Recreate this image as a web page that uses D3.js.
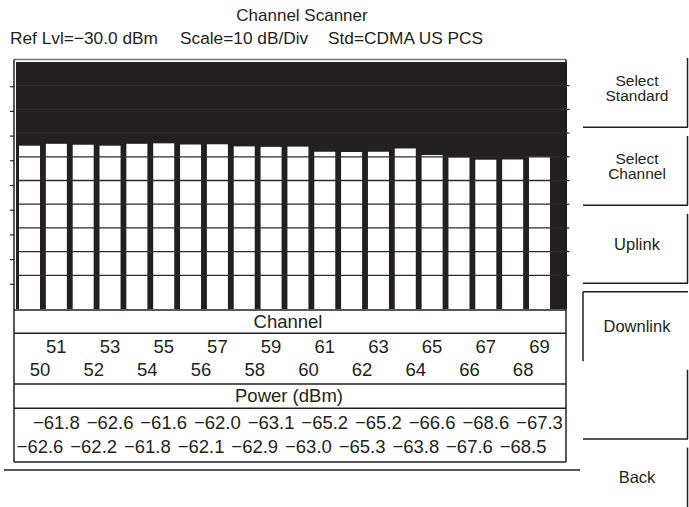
<!DOCTYPE html>
<html>
<head>
<meta charset="utf-8">
<script src="https://d3js.org/d3.v7.min.js"></script>
<style>
  body { margin: 0; background: #fff; }
  svg text { font-family: "Liberation Sans", Arial, sans-serif; fill: #231f20; }
</style>
</head>
<body>
<svg width="689" height="507"></svg>
<script>
// channel scan data
var channels = [50, 51, 52, 53, 54, 55, 56, 57, 58, 59, 60, 61, 62, 63, 64, 65, 66, 67, 68, 69]
var power = [-62.6, -61.8, -62.2, -62.6, -61.8, -61.6, -62.1, -62.0, -62.9, -63.1,
             -63.0, -65.2, -65.3, -65.2, -63.8, -66.6, -67.6, -68.6, -68.5, -67.3]
var headerItems = ["Ref Lvl=\u221230.0 dBm", "Scale=10 dB/Div", "Std=CDMA US PCS"]
var softkeys = [["Select", "Standard"], ["Select", "Channel"], ["Uplink"], ["Downlink"], [], ["Back"]]
var pressedKey = 3
var divisions = d3.range(1, 10)

const ink = "#231f20"
const plotL = 16, plotR = 566, plotT = 62, plotB = 309
const frameL = 14, frameT = 59.5, tableB = 462

var svg = d3.select("svg")

var x = d3.scaleBand().domain(channels).range([19, 550]).paddingInner(0.217).paddingOuter(0)
var y = d3.scaleLinear().domain([-130, -30]).range([303.4, 69.4])
var tickY = d3.scaleLinear().domain([0, 10]).range([plotT, plotB])
var gridY = d3.scaleLinear().domain([0, 10]).range([plotT, plotT + 237])
var fmt = d3.format(".1f")

// header
svg.append("text").attr("x", 302).attr("y", 20.5).attr("text-anchor", "middle")
  .style("font-size", "17px").text("Channel Scanner")
svg.selectAll(".hdr").data(headerItems).enter().append("text")
  .attr("class", "hdr")
  .attr("x", function(d, i){ return [10, 180, 328][i] })
  .attr("y", 44.3)
  .style("font-size", "17.3px")
  .text(function(d){ return d })

// plot area
svg.append("rect").attr("x", plotL).attr("y", plotT)
  .attr("width", plotR - plotL + 1).attr("height", plotB - plotT).attr("fill", ink)

svg.append("g").selectAll("rect").data(channels).enter().append("rect")
  .attr("x", function(d){ return x(d) })
  .attr("width", x.bandwidth())
  .attr("y", function(d, i){ return y(power[i]) })
  .attr("height", function(d, i){ return plotB - y(power[i]) })
  .attr("fill", "#fff")

// graticule (only shows on the white bars)
svg.append("g").selectAll("line").data(divisions).enter().append("line")
  .attr("x1", plotL).attr("x2", plotR)
  .attr("y1", function(d){ return gridY(d) }).attr("y2", function(d){ return gridY(d) })
  .attr("stroke", "#2b2b2b").attr("stroke-width", 1.3)

// left and right tick marks
svg.append("g").selectAll("line").data(divisions).enter().append("line")
  .attr("x1", 10).attr("x2", frameL)
  .attr("y1", function(d){ return tickY(d) }).attr("y2", function(d){ return tickY(d) })
  .attr("stroke", ink).attr("stroke-width", 1.2)
svg.append("g").selectAll("line").data(divisions).enter().append("line")
  .attr("x1", plotR).attr("x2", 569.5)
  .attr("y1", function(d){ return gridY(d) }).attr("y2", function(d){ return gridY(d) })
  .attr("stroke", ink).attr("stroke-width", 1.2)

// frame and table rules
var frame = svg.append("g").attr("stroke", ink).attr("stroke-width", 1.5).attr("fill", "none")
frame.append("line").attr("x1", frameL).attr("x2", plotR).attr("y1", frameT).attr("y2", frameT)
  .attr("stroke", "#777")
frame.append("line").attr("x1", frameL).attr("x2", frameL).attr("y1", frameT).attr("y2", tableB)
frame.append("line").attr("x1", plotR).attr("x2", plotR).attr("y1", frameT).attr("y2", tableB)
frame.selectAll(".rule").data([310, 333.3, 384, 408.3, tableB]).enter().append("line")
  .attr("x1", frameL).attr("x2", plotR)
  .attr("y1", function(d){ return d }).attr("y2", function(d){ return d })
frame.append("line").attr("x1", 4).attr("x2", 580).attr("y1", 470).attr("y2", 470)

// table text
var tbl = svg.append("g").style("font-size", "18.5px").attr("text-anchor", "middle")
tbl.append("text").attr("x", 288).attr("y", 328.3).text("Channel")
tbl.append("text").attr("x", 289).attr("y", 401.8).text("Power (dBm)")

var evenShift = 10.5
function labelX(d){ return x(d) + x.bandwidth() / 2 + (d % 2 === 0 ? evenShift : 0) }
tbl.selectAll(".ch").data(channels).enter().append("text")
  .attr("class", "ch")
  .attr("x", labelX)
  .attr("y", function(d){ return d % 2 === 0 ? 376 : 352.7 })
  .text(function(d){ return d })
tbl.selectAll(".pw").data(channels).enter().append("text")
  .attr("class", "pw")
  .attr("x", labelX)
  .attr("y", function(d){ return d % 2 === 0 ? 452.6 : 429.3 })
  .text(function(d, i){ return fmt(power[i]) })

// soft keys on the right
var keyY = d3.scaleBand().domain(d3.range(softkeys.length)).range([58, 517]).paddingInner(0.11)
var keyL = 583, keyR = 687.5
var keys = svg.append("g").selectAll("g").data(softkeys).enter().append("g")
keys.each(function(lines, i){
  var g = d3.select(this)
  var t = keyY(i), b = t + keyY.bandwidth()
  if (i === pressedKey) {
    g.append("line").attr("x1", keyL).attr("x2", keyR + 0.5).attr("y1", t).attr("y2", t)
    g.append("line").attr("x1", keyL).attr("x2", keyL).attr("y1", t).attr("y2", b)
  } else {
    g.append("line").attr("x1", keyR).attr("x2", keyR).attr("y1", t).attr("y2", b)
    g.append("line").attr("x1", keyL).attr("x2", keyR + 0.5).attr("y1", b).attr("y2", b)
  }
  g.selectAll("line").attr("stroke", ink).attr("stroke-width", 1.5)
  var cy = (t + b) / 2 + (i === pressedKey ? 0 : -5)
  var lh = 15.5
  var fs = lines.length > 1 ? "15.5px" : "16.5px"
  g.append("text")
    .attr("x", 637).attr("text-anchor", "middle")
    .style("font-size", fs)
    .selectAll("tspan").data(lines).enter().append("tspan")
    .attr("x", 637)
    .attr("y", function(d, k){ return cy + 6 + (k - (lines.length - 1) / 2) * lh })
    .text(function(d){ return d })
})
</script>
</body>
</html>
